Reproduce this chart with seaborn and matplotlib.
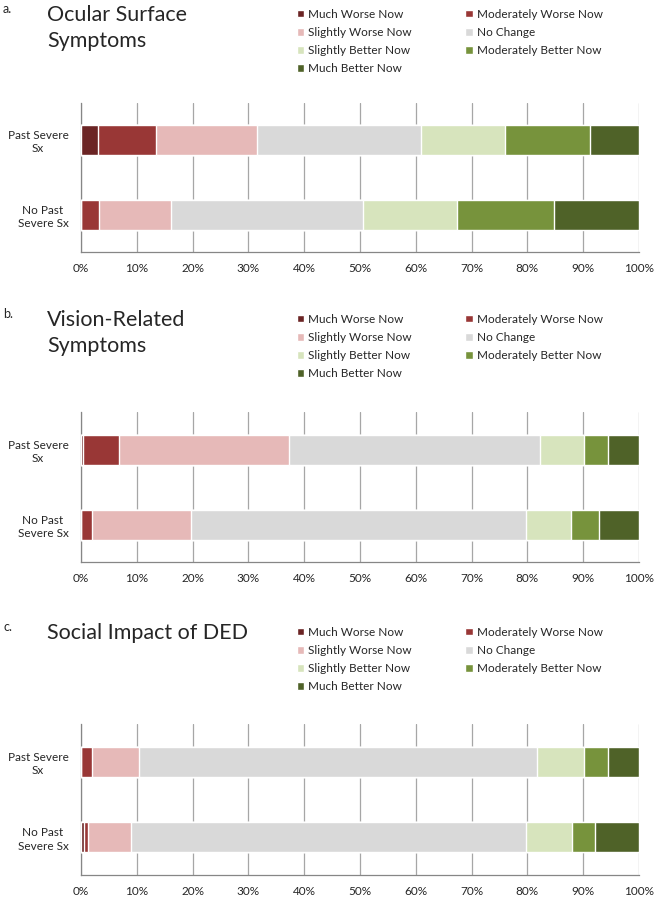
import numpy as np
import pandas as pd
import seaborn as sns
import matplotlib.pyplot as plt
from matplotlib.patches import Patch
from matplotlib.ticker import PercentFormatter

# Response categories and colours (Excel-style palette)
responses = ['Much Worse Now', 'Moderately Worse Now', 'Slightly Worse Now', 'No Change',
             'Slightly Better Now', 'Moderately Better Now', 'Much Better Now']
colors = ['#6B2424', '#993736', '#E6B9B8', '#D9D9D9', '#D7E4BD', '#77933C', '#4F6228']

groups = ['Past Severe\nSx', 'No Past\nSevere Sx']

# Percent of respondents per response (rows follow `groups`)
ocular = [[3.1, 10.4, 18.0, 29.5, 15.0, 15.3, 8.7],
          [0.0, 3.2, 12.9, 34.5, 16.7, 17.5, 15.2]]
vision = [[0.4, 6.4, 30.4, 45.0, 8.0, 4.2, 5.6],
          [0.0, 2.0, 17.8, 60.0, 8.0, 5.0, 7.2]]
social = [[0.0, 1.9, 8.5, 71.4, 8.4, 4.2, 5.6],
          [0.5, 0.7, 7.8, 70.8, 8.2, 4.2, 7.8]]

panel_letters = ['a.', 'b.', 'c.']
panel_titles = ['Ocular Surface\nSymptoms', 'Vision-Related\nSymptoms', 'Social Impact of DED']
panel_data = [ocular, vision, social]

sns.set_style('white')
plt.rcParams['font.family'] = ['Lato', 'DejaVu Sans']

W, H = 654, 900
fig = plt.figure(figsize=(W / 100, H / 100), dpi=100)

# layout in pixels from the top: axes top/bottom, title top, legend top
axes_px = [(103, 252), (412, 562), (724, 875)]
title_px = [5, 310, 623]
legend_px = [-2, 303, 616]
left_px, right_px = 81, 639

for k in range(3):
    top, bottom = axes_px[k]
    ax = fig.add_axes([left_px / W, 1 - bottom / H, (right_px - left_px) / W, (bottom - top) / H])
    df = pd.DataFrame(panel_data[k], columns=responses)
    df['group'] = groups
    cum = df[responses].cumsum(axis=1) / 100.0

    # stacked bars: draw cumulative totals from the last segment to the first
    for i in range(len(responses) - 1, -1, -1):
        sns.barplot(x=cum[responses[i]], y=df['group'], orient='h', color=colors[i],
                    width=0.4, saturation=1, ax=ax, zorder=3)

    ax.set_xlim(0, 1)
    ax.set_ylim(1.5, -0.5)
    ax.set_xticks(np.arange(0, 1.01, 0.1))
    ax.xaxis.set_major_formatter(PercentFormatter(1.0, decimals=0))
    ax.grid(axis='x', color='#A6A6A6', lw=0.9, zorder=0)
    ax.set_xlabel('')
    ax.set_ylabel('')
    ax.set_yticks([0, 1])
    ax.set_yticklabels(groups, multialignment='center', linespacing=1.25)
    ax.set_yticks([-0.5, 0.5, 1.5], minor=True)
    ax.tick_params(axis='y', which='major', length=0, pad=9, labelsize=8.5)
    ax.tick_params(axis='y', which='minor', length=4, color='#868686', width=0.9)
    ax.tick_params(axis='x', length=4, color='#A6A6A6', labelsize=8.5, pad=4)
    for s in ['top', 'right']:
        ax.spines[s].set_visible(False)
    for s in ['left', 'bottom']:
        ax.spines[s].set_color('#868686')
        ax.spines[s].set_linewidth(0.9)
    if ax.get_legend():
        ax.get_legend().remove()

    ty = 1 - title_px[k] / H
    fig.text(3 / W, ty + 0.002, panel_letters[k], fontsize=9, va='top')
    fig.text(47 / W, ty, panel_titles[k], fontsize=15.5, va='top', linespacing=1.4)

    # legend: row-major order in two columns
    order = [0, 2, 4, 6, 1, 3, 5]
    handles = [Patch(facecolor=colors[j], label=responses[j]) for j in order]
    fig.legend(handles=handles, ncol=2, loc='upper left',
               bbox_to_anchor=(286 / W, 1 - legend_px[k] / H), frameon=False, fontsize=8.5,
               handlelength=0.65, handleheight=0.65, handletextpad=0.35,
               columnspacing=4.5, labelspacing=0.6)

fig.savefig('out.png', dpi=100)
